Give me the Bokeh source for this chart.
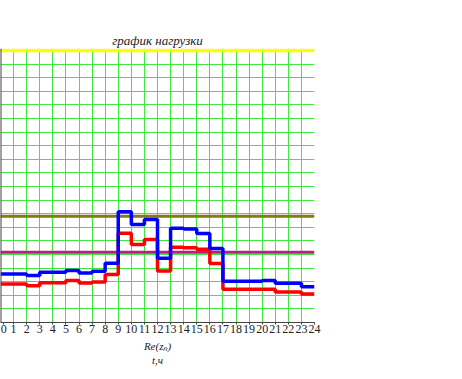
from bokeh.plotting import figure
from bokeh.models import Range1d, SingleIntervalTicker, FixedTicker, Span, Title
from bokeh.embed import file_html
from bokeh.resources import INLINE

hours = list(range(25))
hour_labels = [str(h) for h in hours]
blue_load = [3.56, 3.56, 3.45, 3.69, 3.69, 3.82, 3.64, 3.76, 4.35, 8.15, 7.21, 7.58,
             4.72, 6.94, 6.88, 6.55, 5.44, 3.03, 3.03, 3.03, 3.08, 2.88, 2.88, 2.63]
red_load = [2.83, 2.83, 2.71, 2.93, 2.93, 3.08, 2.90, 2.97, 3.53, 6.57, 5.73, 6.10,
            3.79, 5.54, 5.50, 5.39, 4.33, 2.45, 2.45, 2.45, 2.45, 2.24, 2.24, 2.09]
limit_top = 20.0
limit_olive = 7.82
limit_magenta = 5.17

# the "0" label is nudged off the frame edge, as in the original
ZERO_LABEL_POS = 0.25
tick_pos = [ZERO_LABEL_POS] + hours[1:]

p = figure(width=342, height=372, output_backend="svg", toolbar_location=None,
           x_range=Range1d(0, 24), y_range=Range1d(0, 20.15),
           min_border_left=8, min_border_right=20, min_border_top=48, min_border_bottom=50,
           margin=(0, 0, 0, -8))
p.title.text = "график нагрузки"
p.title.align = "center"
p.title.text_font = "Liberation Serif"
p.title.text_font_style = "italic"
p.title.text_font_size = "13px"
p.title.text_color = "#222222"
p.title.offset = 0
p.title.standoff = 1
p.outline_line_color = None
p.background_fill_color = "white"
p.border_fill_color = "white"

p.xaxis.ticker = FixedTicker(ticks=tick_pos)
p.xaxis.major_label_overrides = {t: s for t, s in zip(tick_pos, hour_labels)}
p.xaxis.major_label_text_font = "Liberation Serif"
p.xaxis.major_label_text_font_size = "12px"
p.xaxis.major_label_text_color = "#222222"
p.xaxis.major_label_standoff = 0
p.xaxis.major_tick_out = 2
p.xaxis.major_tick_in = 0
p.xaxis.minor_tick_line_color = None
p.xaxis.axis_line_color = "#444444"
p.xaxis.major_tick_line_color = "#444444"
p.xaxis.axis_label = "Re(zₙ)"
p.xaxis.axis_label_text_font = "Liberation Serif"
p.xaxis.axis_label_text_font_style = "italic"
p.xaxis.axis_label_text_font_size = "11px"
p.xaxis.axis_label_text_color = "#222222"
p.xaxis.axis_label_standoff = 4

p.add_layout(Title(text="t,ч", align="center", text_font="Liberation Serif",
                   text_font_style="italic", text_font_size="11px",
                   text_color="#222222", offset=0, standoff=-5), "below")

p.yaxis.visible = False

p.xgrid.ticker = FixedTicker(ticks=hours)
p.ygrid.ticker = SingleIntervalTicker(interval=1)
for g in (p.xgrid, p.ygrid):
    g.grid_line_color = "#3ee83e"
    g.grid_line_width = 1
    g.grid_line_alpha = 1

p.add_layout(Span(location=0, dimension="height", line_color="#444444", line_width=2))

p.line([0, 24], [limit_top, limit_top], line_color="#ffff00", line_width=3.5)
p.line([0, 24], [limit_olive, limit_olive], line_color="#847a12", line_width=3)
p.line([0, 24], [limit_magenta, limit_magenta], line_color="#c2188a", line_width=3)

p.step(hours, red_load + red_load[-1:], mode="after", line_color="#ff0000", line_width=3.5)
p.step(hours, blue_load + blue_load[-1:], mode="after", line_color="#0000ff", line_width=3.5)

open("out.html", "w").write(file_html(p, INLINE))
